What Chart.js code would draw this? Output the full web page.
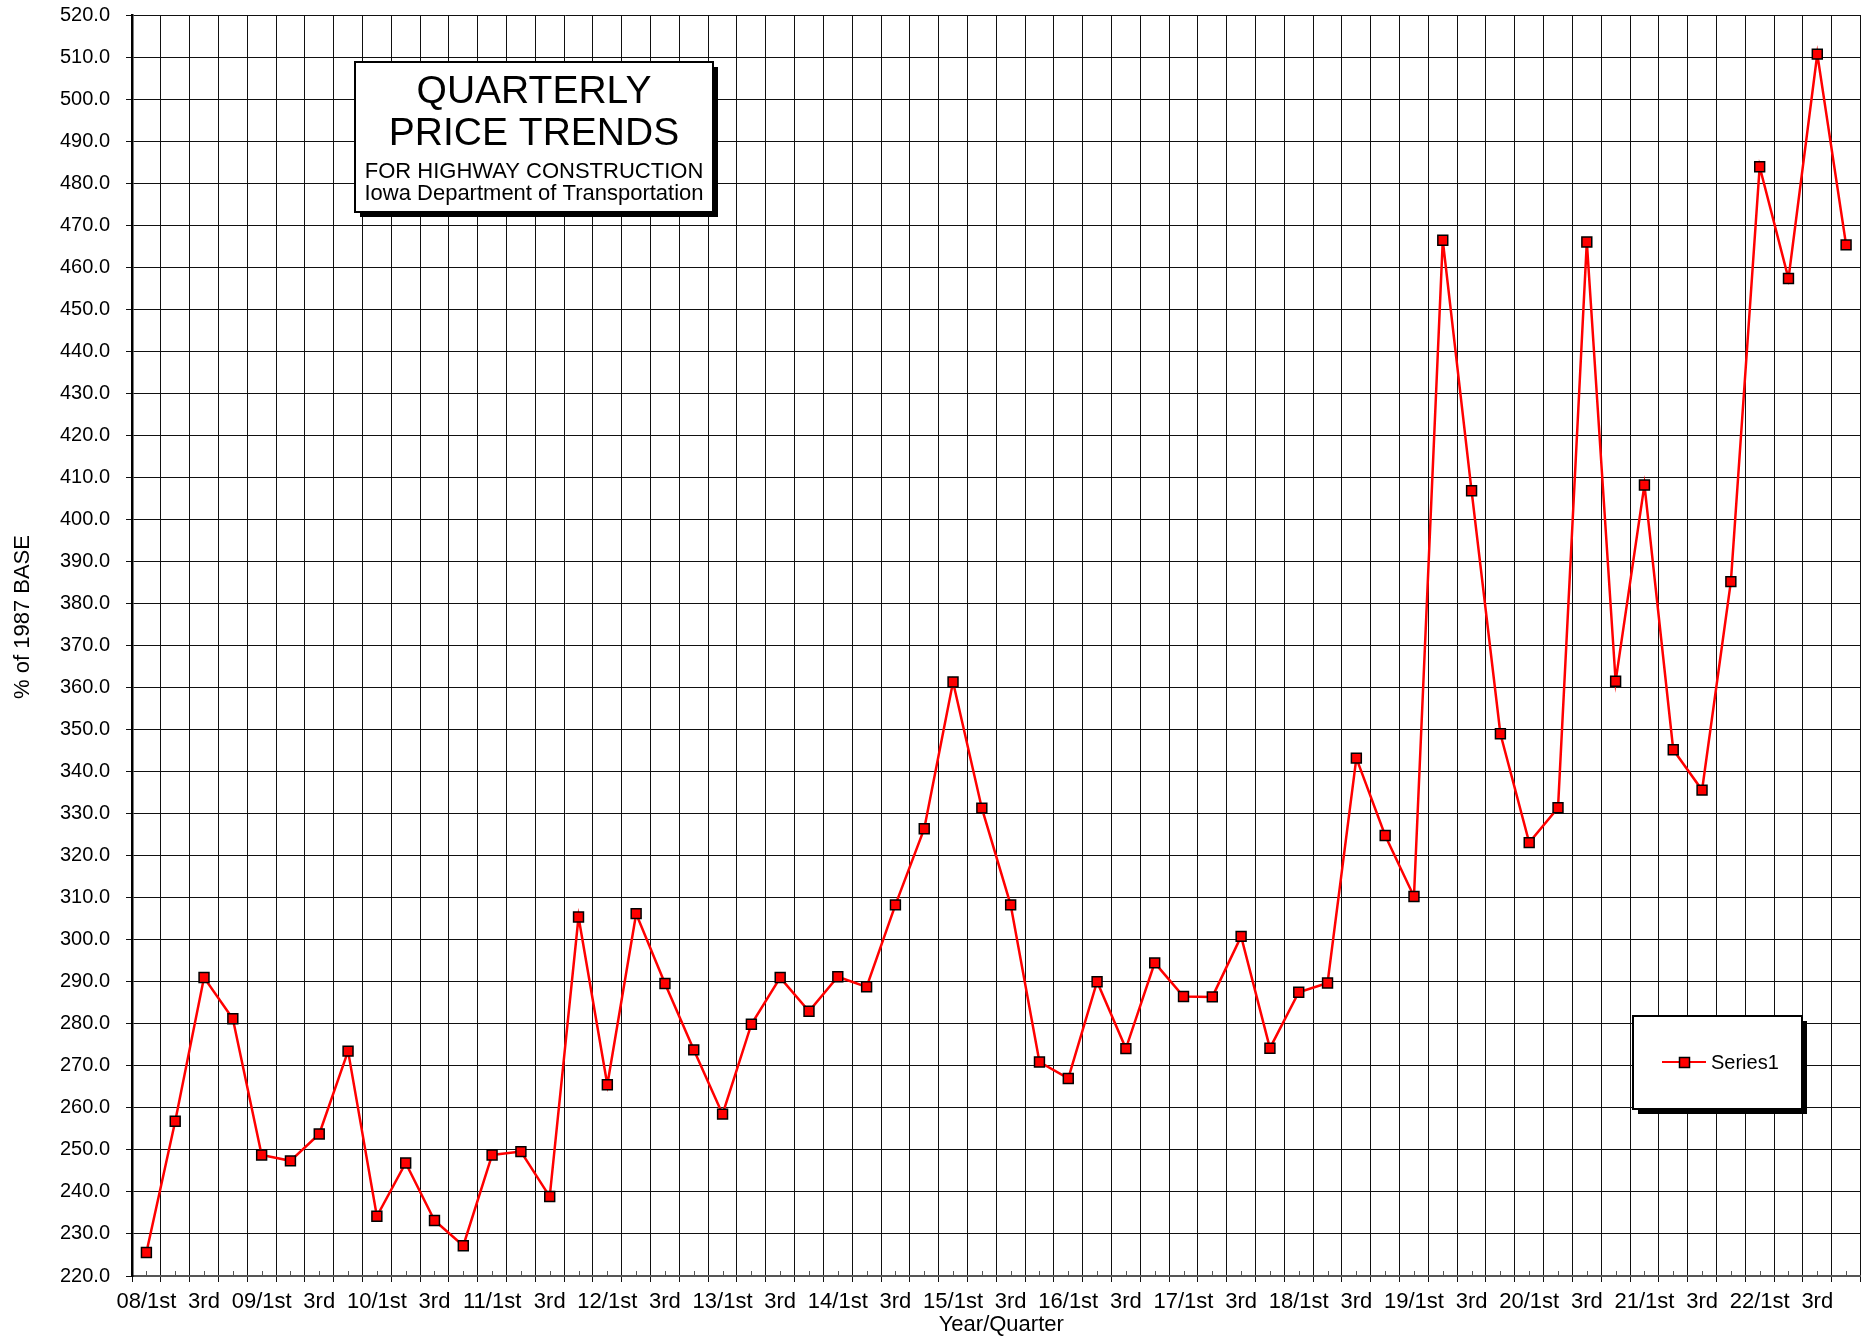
<!DOCTYPE html>
<html>
<head>
<meta charset="utf-8">
<title>Quarterly Price Trends</title>
<script src="https://cdn.jsdelivr.net/npm/chart.js@4.4.1/dist/chart.umd.min.js"></script>
<style>
  html, body { margin: 0; padding: 0; background: #fff; }
  #wrap { width: 1869px; height: 1338px; }
</style>
</head>
<body>
<div id="wrap"><canvas id="priceChart" width="1869" height="1338"></canvas></div>
<script>
// data, one value per quarter
const years = ["08", "09", "10", "11", "12", "13", "14", "15", "16", "17", "18", "19", "20", "21", "22"];
const quarters = ["1st", "2nd", "3rd", "4th"];
const priceIndex = [
  225.6, 256.8, 291.0, 281.2,
  248.8, 247.4, 253.8, 273.5,
  234.2, 246.9, 233.2, 227.2,
  248.8, 249.6, 238.9, 305.4,
  265.5, 306.2, 289.6, 273.8,
  258.5, 279.9, 291.0, 283.0,
  291.2, 288.8, 308.3, 326.4,
  361.3, 331.3, 308.3, 270.9,
  267.0, 290.0, 274.1, 294.5,
  286.5, 286.4, 300.8, 274.2,
  287.5, 289.7, 343.2, 324.8,
  310.3, 466.4, 406.8, 349.0,
  323.1, 331.4, 466.0, 361.5,
  408.2, 345.2, 335.6, 385.2,
  483.9, 457.3, 510.7, 465.3
];
const yMin = 220, yMax = 520, yStep = 10;

// categories like "08/1st", tick label only on 1st and 3rd quarter
const categories = [];
const tickLabels = [];
years.forEach(y => {
  quarters.forEach(q => {
    categories.push(y + "/" + q);
    if (q === "1st") tickLabels.push(y + "/" + q);
    else if (q === "3rd") tickLabels.push(q);
    else tickLabels.push("");
  });
});

const FONT = "'Liberation Sans', Arial, sans-serif";
const gridColor = "#111";
Chart.defaults.font.family = FONT;
Chart.defaults.color = "#000";

function shadowBox(ctx, x, y, w, h) {
  ctx.fillStyle = "#000";
  ctx.fillRect(x + 5, y + 5, w, h);
  ctx.fillStyle = "#fff";
  ctx.fillRect(x, y, w, h);
  ctx.lineWidth = 2;
  ctx.strokeStyle = "#000";
  ctx.strokeRect(x, y, w, h);
}

// title box, legend box, axis titles and small inner ticks
const overlay = {
  id: "overlay",
  afterDraw(chart) {
    const ctx = chart.ctx;
    const area = chart.chartArea;
    const xs = chart.scales.x;
    ctx.save();

    // minor ticks at each quarter, inside the plot
    ctx.strokeStyle = "#555";
    ctx.lineWidth = 1;
    for (let i = 0; i < categories.length; i++) {
      const px = Math.round(xs.getPixelForValue(i)) + 0.5;
      ctx.beginPath();
      ctx.moveTo(px, area.bottom - 5);
      ctx.lineTo(px, area.bottom);
      ctx.stroke();
    }

    // title
    shadowBox(ctx, 355, 62, 358, 150);
    ctx.fillStyle = "#000";
    ctx.textAlign = "center";
    ctx.textBaseline = "alphabetic";
    ctx.font = "39px " + FONT;
    ctx.fillText("QUARTERLY", 534, 103);
    ctx.fillText("PRICE TRENDS", 534, 145);
    ctx.font = "22px " + FONT;
    ctx.fillText("FOR HIGHWAY CONSTRUCTION", 534, 178);
    ctx.fillText("Iowa Department of Transportation", 534, 200);

    // legend
    const ds = chart.data.datasets[0];
    shadowBox(ctx, 1633, 1016, 169, 93);
    ctx.strokeStyle = ds.borderColor;
    ctx.lineWidth = 2;
    ctx.beginPath();
    ctx.moveTo(1662, 1062);
    ctx.lineTo(1706, 1062);
    ctx.stroke();
    ctx.fillStyle = ds.pointBackgroundColor;
    ctx.fillRect(1679.5, 1057.5, 10, 10);
    ctx.strokeStyle = "#000";
    ctx.lineWidth = 1.5;
    ctx.strokeRect(1679.5, 1057.5, 10, 10);
    ctx.fillStyle = "#000";
    ctx.textAlign = "left";
    ctx.font = "20px " + FONT;
    ctx.fillText(ds.label, 1711, 1069);

    // axis titles
    ctx.font = "22px " + FONT;
    ctx.textAlign = "center";
    ctx.textBaseline = "middle";
    ctx.fillText("Year/Quarter", (area.left + area.right) / 2 + 5, 1325);
    ctx.translate(23, 617);
    ctx.rotate(-Math.PI / 2);
    ctx.fillText("% of 1987 BASE", 0, 0);

    ctx.restore();
  }
};

const ctx = document.getElementById("priceChart").getContext("2d");
new Chart(ctx, {
  type: "line",
  data: {
    labels: categories,
    datasets: [{
      label: "Series1",
      data: priceIndex,
      borderColor: "#ff0000",
      borderWidth: 2.5,
      tension: 0,
      pointStyle: "rect",
      pointRadius: 7,
      pointBackgroundColor: "#ff0000",
      pointBorderColor: "#000",
      pointBorderWidth: 1.5
    }]
  },
  options: {
    responsive: false,
    animation: false,
    devicePixelRatio: 1,
    layout: { padding: { top: 15, right: 2, bottom: 0, left: 0 } },
    plugins: {
      legend: { display: false },
      tooltip: { enabled: false }
    },
    scales: {
      x: {
        offset: true,
        grid: { offset: true, color: gridColor, lineWidth: 1, tickLength: 6 },
        border: { color: "#555", width: 2 },
        ticks: {
          autoSkip: false,
          maxRotation: 0,
          minRotation: 0,
          padding: 7,
          font: { size: 22 },
          callback: (v, i) => tickLabels[i]
        },
        afterFit: s => { s.height = 62; s.paddingLeft = 0; s.paddingRight = 0; }
      },
      y: {
        min: yMin,
        max: yMax,
        grid: { color: gridColor, lineWidth: 1, tickLength: 6 },
        border: { color: "#000", width: 2.5 },
        ticks: {
          stepSize: yStep,
          padding: 16,
          font: { size: 20 },
          callback: v => v.toFixed(1)
        },
        afterFit: s => { s.width = 132; s.paddingTop = 0; s.paddingBottom = 0; }
      }
    }
  },
  plugins: [overlay]
});
</script>
</body>
</html>
